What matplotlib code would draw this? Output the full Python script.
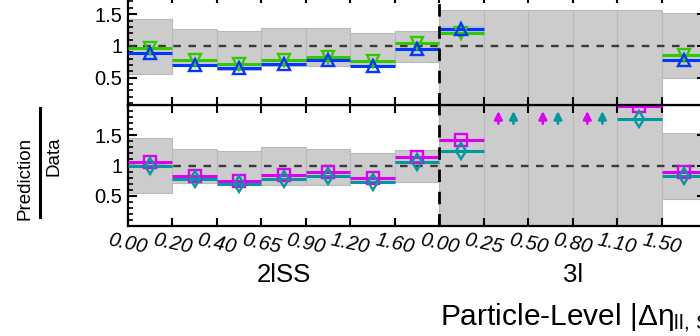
import numpy as np
import matplotlib
matplotlib.use("Agg")
import matplotlib.pyplot as plt
import matplotlib.transforms as mtransforms
from matplotlib.ticker import MultipleLocator, FixedLocator, FixedFormatter
from matplotlib.lines import Line2D

plt.rcParams['font.family'] = ['Liberation Sans', 'DejaVu Sans']
plt.rcParams['mathtext.fontset'] = 'custom'
plt.rcParams['mathtext.rm'] = 'Liberation Sans'
plt.rcParams['mathtext.it'] = 'Liberation Sans:italic'

# ---------------- data ----------------
edge_labels = ["0.00", "0.20", "0.40", "0.65", "0.90", "1.20", "1.60",
               "0.00", "0.25", "0.50", "0.80", "1.10", "1.50"]
regions = ["2lSS", "3l"]
region_nbins = [7, 6]
nan = np.nan

# upper panel (green: down triangles, blue: up triangles)
top_green = [0.96, 0.78, 0.72, 0.78, 0.82, 0.76, 1.05, 1.20, nan, nan, nan, nan, 0.86]
top_blue = [0.885, 0.70, 0.655, 0.72, 0.78, 0.69, 0.95, 1.27, nan, nan, nan, nan, 0.78]
top_band_lo = [0.56, 0.69, 0.62, 0.69, 0.69, 0.68, 0.74, 0.0, 0.0, 0.0, 0.0, 0.0, 0.50]
top_band_hi = [1.43, 1.26, 1.23, 1.29, 1.28, 1.20, 1.24, 1.57, 1.57, 1.57, 1.57, 1.57, 1.52]

# lower panel (magenta: squares, teal: diamonds); values > 2 are off scale
bot_magenta = [1.06, 0.83, 0.75, 0.84, 0.90, 0.79, 1.145, 1.42, 2.5, 2.5, 2.5, 1.98, 0.90]
bot_teal = [0.99, 0.78, 0.69, 0.78, 0.83, 0.73, 1.05, 1.24, 2.5, 2.5, 2.5, 1.77, 0.83]
bot_band_lo = [0.54, 0.71, 0.68, 0.68, 0.68, 0.73, 0.73, 0.0, 0.0, 0.0, 0.0, 0.0, 0.44]
bot_band_hi = [1.45, 1.27, 1.245, 1.31, 1.28, 1.21, 1.26, 2.5, 2.5, 2.5, 2.5, 2.5, 1.53]

GREEN = '#33c800'
BLUE = '#0038ff'
MAGENTA = '#dc00f5'
TEAL = '#00999c'
BAND = '#cccccc'
BAND_EDGE = '#b9b9b9'

nb = len(edge_labels)
edges = np.arange(nb + 1)
centers = edges[:-1] + 0.5

W, H = 700, 336
fig = plt.figure(figsize=(7, 3.36), dpi=100)

L = 128 / W
AW = 578 / W
# bottom panel: y pixels 226 -> 105, ylim 0..2
ax2 = fig.add_axes([L, (H - 226) / H, AW, 121 / H])
# top panel: bottom at pixel 105, value 1 at pixel 46, 63.5 px/unit
t_lo, t_hi = 0.07, 1.8
t_h = (t_hi - t_lo) * 63.5
ax1 = fig.add_axes([L, (H - 105) / H, AW, t_h / H])


def draw_panel(ax, lo, hi, series, ylim):
    lo = np.array(lo); hi = np.array(hi)
    ax.bar(centers, hi - lo, bottom=lo, width=1.0, color=BAND,
           edgecolor=BAND_EDGE, linewidth=0.8, zorder=1)
    ax.axhline(1.0, color='#3a3a3a', lw=1.7, dashes=(3.2, 3.2), zorder=2)
    ax.axvline(region_nbins[0], color='black', lw=2.0, dashes=(4.5, 3.5), zorder=6)
    for vals, color, marker, ms in series:
        v = np.array(vals, dtype=float)
        inr = np.where(v <= ylim[1], v, np.nan)
        ax.hlines(inr, edges[:-1], edges[1:], color=color, lw=2.2, zorder=3)
        ax.plot(centers, inr, ls='none', marker=marker, ms=ms, mfc='none',
                mec=color, mew=1.7, zorder=4, clip_on=False)
    ax.set_xlim(0, nb)
    ax.set_ylim(*ylim)


draw_panel(ax1, top_band_lo, top_band_hi,
           [(top_green, GREEN, 'v', 9), (top_blue, BLUE, '^', 9)], (t_lo, t_hi))
draw_panel(ax2, bot_band_lo, bot_band_hi,
           [(bot_magenta, MAGENTA, 's', 8.5), (bot_teal, TEAL, 'd', 8.5)], (0.0, 2.0))

# light error shading in first 3l bin of the upper panel
ax1.bar(centers[7], 0.12, bottom=1.20, width=1.0, color='#a8b8f0', alpha=0.6,
        lw=0, zorder=2.5)

# off-scale arrows in lower panel
for vals, color, dx in [(bot_magenta, MAGENTA, -0.17), (bot_teal, TEAL, 0.17)]:
    for i, v in enumerate(vals):
        if v > 2.0:
            ax2.annotate('', xy=(centers[i] + dx, 1.90), xytext=(centers[i] + dx, 1.69),
                         arrowprops=dict(arrowstyle='-|>', color=color, lw=1.8,
                                         mutation_scale=12, shrinkA=0, shrinkB=0),
                         zorder=5)

for ax in (ax1, ax2):
    ax.yaxis.set_major_locator(FixedLocator([0.5, 1.0, 1.5]))
    ax.yaxis.set_major_formatter(FixedFormatter(['0.5', '1', '1.5']))
    ax.yaxis.set_minor_locator(MultipleLocator(0.1))
    ax.set_xticks(edges)
    ax.tick_params(axis='both', which='both', direction='in', top=True, right=True)
    ax.tick_params(axis='y', which='major', length=6.5, width=1.5, labelsize=14.5, pad=4)
    ax.tick_params(axis='y', which='minor', length=3.3, width=1.2)
    ax.tick_params(axis='x', which='major', length=5.5, width=1.5)
    for s in ax.spines.values():
        s.set_linewidth(1.6)

ax1.set_xticklabels([])
ax2.set_xticklabels(edge_labels + [''], rotation=-12, fontsize=14.5,
                    fontstyle='italic', ha='center', va='top')
ax2.tick_params(axis='x', pad=3)

# region labels
cum = np.cumsum([0] + region_nbins)
reg_tr = mtransforms.blended_transform_factory(ax2.transData, fig.transFigure)
for i, name in enumerate(regions):
    xc = (cum[i] + cum[i + 1]) / 2
    ax2.text(xc, 1 - 275 / H, name, transform=reg_tr,
             ha='center', va='center', fontsize=18.5)

fig.text(440 / W, 1 - 318 / H, r'Particle-Level |Δ$\mathregular{η_{ll,\,SS}}$|',
         ha='left', va='center', fontsize=21.5)

# y label as a fraction
fig.text(25 / W, 1 - 137 / H, 'Prediction', rotation=90, ha='center', va='top', fontsize=13.5)
fig.text(54 / W, 1 - 136 / H, 'Data', rotation=90, ha='center', va='top', fontsize=13.5)
fig.add_artist(Line2D([40 / W, 40 / W], [1 - 108 / H, 1 - 217 / H], color='black', lw=2.2))

fig.savefig('out.png', dpi=100)
